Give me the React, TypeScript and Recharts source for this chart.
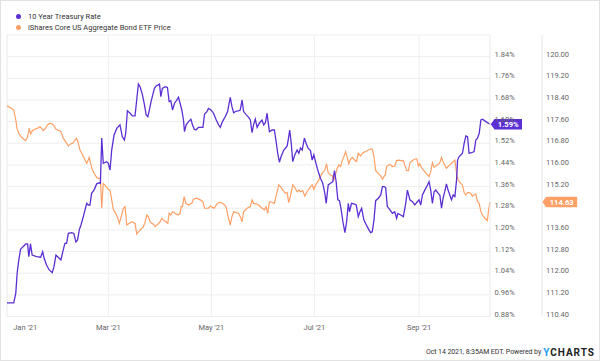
import React from "react";
import { LineChart, Line, XAxis, YAxis, CartesianGrid, ReferenceLine, ReferenceDot } from "recharts";

// days since Jan 1 2021
const rateDays = [-1, 3.0, 4.2, 5.0, 6.0, 7.0, 8.5, 10.1, 11.2, 11.9, 12.9, 13.9, 16.5, 18.9, 20.1, 21.0, 22.4, 24.0, 25.8, 26.8, 28.0, 29.3, 30.9, 32.3, 33.3, 34.3, 35.3, 37.3, 38.6, 39.8, 40.8, 41.8, 42.8, 44.2, 45.2, 46.2, 47.1, 48.1, 49.1, 50.5, 52.1, 53.7, 54.3, 55.1, 56.0, 58.0, 59.0, 60.0, 61.0, 62.4, 64.0, 65.9, 67.3, 68.5, 69.3, 70.3, 71.9, 73.2, 74.8, 75.8, 76.8, 77.8, 79.2, 80.4, 81.4, 82.4, 83.3, 84.3, 85.3, 86.3, 87.3, 88.3, 89.3, 90.1, 91.0, 92.6, 94.0, 95.0, 96.0, 97.0, 98.2, 99.6, 100.5, 101.5, 102.5, 103.5, 104.1, 105.1, 106.5, 107.9, 108.8, 109.9, 110.9, 112.4, 115.0, 116.0, 117.4, 118.3, 119.8, 121.3, 122.9, 124.3, 125.3, 126.6, 128.2, 129.6, 131.2, 132.2, 133.2, 134.8, 136.1, 137.1, 138.2, 139.1, 140.7, 142.1, 143.1, 144.1, 145.0, 146.0, 147.1, 148.4, 150.0, 151.0, 152.0, 153.0, 153.6, 154.4, 156.0, 157.3, 158.5, 159.3, 160.3, 161.3, 162.9, 164.9, 165.8, 166.4, 167.3, 168.2, 169.4, 170.8, 171.8, 172.8, 173.8, 175.1, 176.1, 177.3, 178.7, 179.7, 180.7, 181.7, 182.7, 183.6, 184.6, 186.0, 187.2, 188.0, 189.2, 190.6, 191.9, 192.9, 193.9, 194.9, 195.9, 196.9, 197.9, 199.1, 200.1, 201.1, 201.8, 203.0, 204.4, 205.8, 207.0, 208.0, 209.0, 210.3, 211.8, 213.3, 214.3, 215.3, 216.3, 217.3, 218.9, 220.3, 221.3, 222.2, 223.2, 224.2, 225.8, 227.2, 228.6, 229.7, 230.5, 232.1, 233.7, 235.1, 236.1, 237.6, 239.1, 240.4, 242.0, 243.0, 244.0, 245.0, 246.4, 248.0, 248.9, 249.9, 250.9, 251.9, 252.9, 254.3, 255.3, 256.3, 257.2, 258.2, 259.2, 260.2, 261.2, 262.2, 263.2, 264.2, 265.2, 265.8, 266.7, 267.7, 268.7, 269.7, 270.7, 271.7, 272.6, 274.1, 275.6, 276.6, 277.6, 278.6, 279.6, 280.6, 282.6, 285];
const rateValues = [0.93, 0.93, 0.966, 1.04, 1.089, 1.128, 1.138, 1.148, 1.148, 1.101, 1.148, 1.107, 1.101, 1.099, 1.119, 1.095, 1.07, 1.052, 1.042, 1.064, 1.107, 1.099, 1.089, 1.126, 1.15, 1.15, 1.187, 1.19, 1.187, 1.156, 1.163, 1.2, 1.218, 1.249, 1.274, 1.298, 1.292, 1.292, 1.335, 1.347, 1.37, 1.374, 1.372, 1.539, 1.446, 1.452, 1.446, 1.421, 1.495, 1.551, 1.575, 1.588, 1.544, 1.532, 1.557, 1.64, 1.631, 1.621, 1.621, 1.68, 1.739, 1.729, 1.699, 1.662, 1.625, 1.618, 1.643, 1.674, 1.699, 1.723, 1.732, 1.735, 1.739, 1.692, 1.723, 1.729, 1.726, 1.674, 1.677, 1.643, 1.668, 1.68, 1.69, 1.668, 1.643, 1.606, 1.563, 1.588, 1.6, 1.609, 1.588, 1.572, 1.569, 1.579, 1.579, 1.628, 1.637, 1.649, 1.643, 1.631, 1.606, 1.588, 1.579, 1.6, 1.618, 1.637, 1.69, 1.655, 1.633, 1.639, 1.64, 1.643, 1.68, 1.637, 1.625, 1.616, 1.606, 1.559, 1.588, 1.609, 1.579, 1.594, 1.606, 1.588, 1.596, 1.631, 1.6, 1.563, 1.569, 1.569, 1.52, 1.483, 1.45, 1.471, 1.495, 1.51, 1.544, 1.569, 1.52, 1.452, 1.477, 1.495, 1.483, 1.502, 1.495, 1.539, 1.52, 1.502, 1.493, 1.458, 1.477, 1.452, 1.428, 1.409, 1.391, 1.372, 1.335, 1.298, 1.366, 1.372, 1.378, 1.419, 1.378, 1.311, 1.308, 1.274, 1.23, 1.19, 1.23, 1.298, 1.267, 1.298, 1.296, 1.292, 1.249, 1.267, 1.28, 1.237, 1.218, 1.2, 1.19, 1.193, 1.237, 1.308, 1.317, 1.329, 1.36, 1.36, 1.357, 1.286, 1.274, 1.261, 1.267, 1.243, 1.261, 1.255, 1.249, 1.298, 1.347, 1.311, 1.304, 1.292, 1.304, 1.311, 1.292, 1.329, 1.347, 1.366, 1.378, 1.347, 1.298, 1.341, 1.347, 1.335, 1.329, 1.28, 1.317, 1.341, 1.37, 1.347, 1.329, 1.311, 1.329, 1.323, 1.384, 1.458, 1.471, 1.477, 1.483, 1.52, 1.547, 1.544, 1.483, 1.485, 1.489, 1.532, 1.539, 1.557, 1.606, 1.609, 1.6, 1.59];

const priceDays = [-1, 1.7, 3.0, 4.2, 5.0, 6.2, 7.6, 9.0, 10.1, 11.2, 12.1, 13.1, 14.1, 15.5, 16.9, 18.5, 19.5, 20.4, 21.8, 23.0, 24.4, 25.8, 26.9, 28.0, 29.9, 30.9, 32.3, 33.7, 35.3, 36.7, 38.2, 39.2, 40.2, 41.2, 42.2, 43.8, 45.2, 46.2, 47.1, 47.7, 48.5, 49.7, 51.1, 52.5, 53.7, 54.3, 55.1, 56.0, 57.5, 59.0, 60.0, 61.0, 62.0, 63.4, 64.6, 65.5, 66.9, 67.9, 68.9, 69.9, 71.3, 72.9, 74.8, 75.8, 76.8, 78.2, 79.8, 80.8, 81.8, 82.7, 83.7, 84.8, 85.7, 86.7, 88.3, 89.7, 90.7, 91.6, 93.1, 94.2, 95.0, 96.0, 97.0, 98.0, 99.0, 100.5, 101.5, 102.1, 102.9, 103.9, 104.9, 106.5, 108.5, 109.4, 111.4, 113.4, 115.0, 116.0, 117.4, 118.3, 119.4, 120.4, 121.7, 122.9, 124.3, 125.7, 127.2, 128.7, 129.9, 131.2, 132.2, 133.2, 134.8, 136.1, 137.1, 138.2, 139.1, 141.1, 143.1, 144.1, 145.0, 146.7, 148.0, 150.0, 151.4, 152.4, 153.4, 154.4, 156.0, 157.3, 158.5, 159.9, 160.9, 162.3, 163.9, 164.9, 165.8, 166.8, 168.2, 169.4, 170.8, 171.8, 172.8, 174.1, 175.3, 176.7, 178.1, 179.7, 180.7, 181.7, 183.6, 185.6, 187.2, 188.2, 189.2, 190.6, 191.6, 192.5, 193.5, 194.5, 195.5, 196.5, 197.5, 198.5, 199.5, 200.5, 201.4, 202.4, 203.5, 204.8, 206.0, 207.0, 208.4, 209.7, 211.3, 212.9, 214.3, 215.3, 216.3, 217.3, 218.9, 220.3, 221.3, 222.2, 223.0, 223.8, 225.2, 226.2, 227.2, 228.6, 229.7, 231.1, 232.5, 233.7, 234.5, 235.7, 236.7, 237.6, 239.1, 240.4, 241.6, 242.6, 243.4, 244.4, 245.6, 247.0, 248.0, 248.9, 249.9, 250.9, 251.9, 252.9, 254.3, 255.3, 256.3, 257.2, 258.2, 259.2, 260.2, 261.8, 263.2, 264.2, 265.2, 266.1, 267.7, 268.7, 269.7, 270.7, 271.7, 272.6, 273.6, 274.6, 275.6, 276.6, 277.6, 278.6, 279.6, 280.6, 282.0, 283.4, 284.2, 285];
const priceValues = [118.18, 118.09, 118.03, 117.66, 117.32, 117.14, 117.02, 116.95, 116.9, 117.04, 117.35, 117.14, 117.27, 117.32, 117.35, 117.41, 117.35, 117.27, 117.35, 117.48, 117.54, 117.51, 117.44, 117.32, 117.27, 117.23, 116.99, 116.86, 116.7, 116.77, 116.82, 116.92, 116.99, 116.8, 116.55, 116.37, 116.18, 116.06, 116.18, 116.28, 116.06, 115.79, 115.63, 115.51, 115.51, 115.49, 114.4, 115.32, 115.22, 115.1, 115.07, 114.71, 114.34, 114.21, 114.03, 113.84, 114.15, 114.4, 114.46, 113.78, 113.84, 113.9, 113.84, 113.45, 113.53, 113.62, 113.72, 113.9, 114.15, 114.09, 113.9, 113.84, 113.81, 113.72, 113.81, 113.9, 114.03, 113.97, 113.9, 113.84, 114.21, 114.15, 114.27, 114.24, 114.19, 114.15, 114.21, 114.46, 114.46, 114.83, 114.58, 114.52, 114.58, 114.73, 114.77, 114.71, 114.64, 114.4, 114.4, 114.4, 114.48, 114.44, 114.4, 114.52, 114.61, 114.61, 114.56, 114.46, 114.09, 113.78, 114.09, 114.27, 114.24, 114.21, 114.09, 113.9, 114.27, 114.4, 114.46, 114.71, 114.58, 114.56, 114.52, 114.4, 114.34, 114.46, 114.21, 114.64, 114.61, 114.58, 114.89, 115.26, 115.2, 115.07, 114.95, 114.98, 114.61, 114.83, 115.26, 115.17, 115.01, 115.07, 115.01, 115.05, 114.85, 115.01, 115.14, 115.26, 115.1, 115.26, 115.44, 115.69, 115.81, 116.04, 115.71, 115.63, 115.6, 115.44, 115.63, 115.88, 116.0, 115.94, 116.16, 116.31, 116.49, 116.28, 116.04, 116.21, 116.28, 116.18, 116.12, 116.43, 116.33, 116.45, 116.49, 116.55, 116.58, 116.58, 116.31, 115.79, 115.69, 115.59, 115.47, 115.57, 115.63, 115.94, 116.0, 116.0, 115.94, 115.96, 116.16, 116.18, 116.16, 116.16, 116.0, 115.79, 115.79, 116.08, 116.16, 116.21, 116.23, 115.96, 116.04, 115.91, 115.81, 115.71, 115.63, 115.57, 115.75, 116.08, 115.91, 115.96, 116.02, 116.08, 116.28, 116.12, 116.0, 115.88, 115.94, 116.04, 116.12, 116.18, 115.69, 115.44, 115.32, 115.26, 114.98, 114.89, 114.98, 114.98, 114.95, 114.85, 114.89, 114.93, 114.64, 114.58, 114.27, 114.15, 114.03, 113.94, 114.34, 114.63];

const monthTicks = [0, 59, 120, 181, 243];
const monthLabels = ["Jan '21", "Mar '21", "May '21", "Jul '21", "Sep '21"];
const rateTicks = [0.88, 0.96, 1.04, 1.12, 1.2, 1.28, 1.36, 1.44, 1.52, 1.6, 1.68, 1.76, 1.84, 1.92];
const priceTicks = [110.4, 111.2, 112.0, 112.8, 113.6, 114.4, 115.2, 116.0, 116.8, 117.6, 118.4, 119.2, 120.0, 120.8];

const seriesNames = ["10 Year Treasury Rate", "iShares Core US Aggregate Bond ETF Price"];
const PURPLE = "#5b2fd3";
const ORANGE = "#ffa066";
const FONT = "Roboto, 'Noto Sans', sans-serif";

// axis ids: the inner (rate) axis must sort first
const RATE_ID = "a_rate";
const PRICE_ID = "b_price";

const rateData = rateDays.map((d, i) => ({ day: d, rate: rateValues[i] }));
const priceData = priceDays.map((d, i) => ({ day: d, price: priceValues[i] }));
const lastDay = rateDays[rateDays.length - 1];
const lastRate = rateValues[rateValues.length - 1];
const lastPrice = priceValues[priceValues.length - 1];

const flagPath = (tipX: number, cy: number, width: number, h: number, a: number) =>
  `M${tipX},${cy} L${tipX + a},${cy - h / 2} L${tipX + a + width},${cy - h / 2} L${tipX + a + width},${cy + h / 2} L${tipX + a},${cy + h / 2} Z`;

const makeFlag = (offset: number, width: number, text: string, fill: string) => (props: any) => {
  const tipX = props.cx + offset;
  const cy = props.cy;
  const h = 10.5;
  const a = 3.8;
  return (
    <g>
      <path d={flagPath(tipX, cy, width, h, a)} fill={fill} />
      <text x={tipX + a + width / 2} y={cy + 2.7} textAnchor="middle" fill="#fff" fontSize={7.6} fontWeight={700} fontFamily={FONT}>
        {text}
      </text>
    </g>
  );
};

const RateTick = ({ x, y, payload }: any) => {
  const v = payload.value;
  if (v > 1.9) return <g />;
  return (
    <text x={x} y={y} fill="#666" fontSize={7.5} fontFamily={FONT} textAnchor="start">
      {v.toFixed(2)}%
    </text>
  );
};

const PriceTick = ({ x, y, payload }: any) => {
  const v = payload.value;
  // the label lying under the last-value flag is covered in the reference
  if (v > 120.5 || Math.abs(v - lastPrice) < 0.4) return <g />;
  return (
    <text x={x} y={y} fill="#666" fontSize={7.5} fontFamily={FONT} textAnchor="start">
      {v.toFixed(2)}
    </text>
  );
};

const MonthTick = ({ x, y, payload }: any) => {
  const i = monthTicks.indexOf(payload.value);
  return (
    <text x={i === 0 ? x + 16.5 : x} y={y + 13} fill="#666" fontSize={7.5} fontFamily={FONT} textAnchor="middle">
      {monthLabels[i]}
    </text>
  );
};

export default function App() {
  return (
    <div style={{ position: "absolute", left: 0, top: 0, width: 600, height: 361, background: "#fff", fontFamily: FONT, boxSizing: "border-box", border: "1px solid #e2e2e2" }}>
      <div style={{ position: "absolute", left: -1, top: -1 }}>
        <LineChart width={600} height={361} margin={{ top: 35, right: 0, bottom: 14.5, left: 7 }}>
          <CartesianGrid yAxisId={RATE_ID} vertical={false} stroke="#eeeeee" />
          <XAxis
            dataKey="day"
            type="number"
            domain={[-1, 285]}
            ticks={monthTicks}
            tick={<MonthTick />}
            tickLine={false}
            axisLine={false}
            tickSize={0}
            tickMargin={0}
            height={30}
          />
          <YAxis
            yAxisId={RATE_ID}
            orientation="right"
            domain={[0.88, 1.92]}
            ticks={rateTicks}
            width={52}
            tick={<RateTick />}
            tickLine={false}
            tickSize={0}
            tickMargin={4.5}
            axisLine={{ stroke: "#e8e8e8" }}
            interval={0}
          />
          <YAxis
            yAxisId={PRICE_ID}
            orientation="right"
            domain={[110.4, 120.8]}
            ticks={priceTicks}
            width={58}
            tick={<PriceTick />}
            tickLine={false}
            tickSize={0}
            tickMargin={4}
            axisLine={{ stroke: "#e8e8e8" }}
            interval={0}
          />
          <ReferenceLine yAxisId={RATE_ID} x={-1} stroke="#e8e8e8" />
          {monthTicks.slice(1).map((m) => (
            <ReferenceLine key={m} yAxisId={RATE_ID} x={m} stroke="#eeeeee" />
          ))}
          <Line
            data={priceData}
            yAxisId={PRICE_ID}
            dataKey="price"
            type="linear"
            stroke={ORANGE}
            strokeWidth={1.2}
            dot={false}
            activeDot={false}
            isAnimationActive={false}
          />
          <Line
            data={rateData}
            yAxisId={RATE_ID}
            dataKey="rate"
            type="linear"
            stroke={PURPLE}
            strokeWidth={1.3}
            dot={false}
            activeDot={false}
            isAnimationActive={false}
          />
          <ReferenceDot
            yAxisId={RATE_ID}
            x={lastDay}
            y={lastRate}
            ifOverflow="visible"
            shape={makeFlag(0.7, 27.5, `${lastRate.toFixed(2)}%`, PURPLE)}
          />
          <ReferenceDot
            yAxisId={PRICE_ID}
            x={lastDay}
            y={lastPrice}
            ifOverflow="visible"
            shape={makeFlag(52.4, 31, lastPrice.toFixed(2), ORANGE)}
          />
        </LineChart>
      </div>
      <div style={{ position: "absolute", left: 15, top: 10, fontSize: 7.5, color: "#333", lineHeight: "11px" }}>
        <div style={{ display: "flex", alignItems: "center", height: 11 }}>
          <span style={{ display: "inline-block", width: 5, height: 5, borderRadius: 3, background: PURPLE, marginRight: 7 }} />
          <span>{seriesNames[0]}</span>
        </div>
        <div style={{ display: "flex", alignItems: "center", height: 11 }}>
          <span style={{ display: "inline-block", width: 5, height: 5, borderRadius: 3, background: ORANGE, marginRight: 7 }} />
          <span>{seriesNames[1]}</span>
        </div>
      </div>
      <div style={{ position: "absolute", right: 4, top: 344, height: 14, display: "flex", alignItems: "center", whiteSpace: "nowrap" }}>
        <span style={{ fontSize: 7, color: "#333", letterSpacing: -0.1 }}>Oct 14 2021, 8:35AM EDT. Powered by</span>
        <span style={{ fontSize: 10, fontWeight: 700, letterSpacing: 1, marginLeft: 2, color: "#222" }}>
          <span style={{ color: "#1a9cf0" }}>Y</span>CHARTS
        </span>
      </div>
    </div>
  );
}
